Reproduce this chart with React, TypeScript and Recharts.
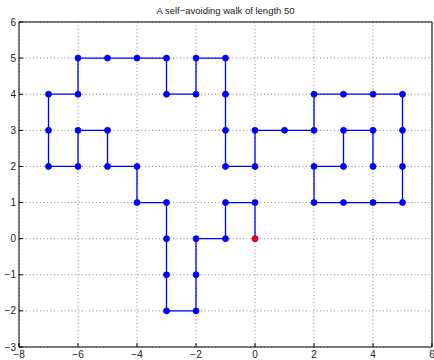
import React from 'react';
import { ComposedChart, Line, XAxis, YAxis, CartesianGrid } from 'recharts';

const walkX = [0, 0, -1, -1, -2, -2, -2, -3, -3, -3, -3, -4, -4, -5, -5, -6, -6, -7, -7, -7, -6, -6, -5, -4, -3, -3, -2, -2, -1, -1, -1, -1, 0, 0, 1, 2, 2, 3, 4, 5, 5, 5, 5, 4, 3, 2, 2, 3, 3, 4, 4];
const walkY = [0, 1, 1, 0, 0, -1, -2, -2, -1, 0, 1, 1, 2, 2, 3, 3, 2, 2, 3, 4, 4, 5, 5, 5, 5, 4, 4, 5, 5, 4, 3, 2, 2, 3, 3, 3, 4, 4, 4, 4, 3, 2, 1, 1, 1, 1, 2, 2, 3, 3, 2];
const startX = [0];
const startY = [0];
const xTicks = [-8, -6, -4, -2, 0, 2, 4, 6];
const yTicks = [-3, -2, -1, 0, 1, 2, 3, 4, 5, 6];
const title = 'A self\u2212avoiding walk of length 50';

const walkData = walkX.map((x, i) => ({ x, y: walkY[i] }));
const startData = startX.map((x, i) => ({ x, y: startY[i] }));

const fmt = (v: number) => String(v).replace('-', '\u2212');
const tickStyle = { fontSize: 10, fill: '#222', fontFamily: '"Liberation Sans", Arial, sans-serif' };

export default function App() {
  return (
    <div style={{ position: 'absolute', left: 0, top: 0, width: 434, height: 360, background: '#fff' }}>
      <div
        style={{
          position: 'absolute',
          left: 19,
          width: 413,
          top: 5,
          textAlign: 'center',
          fontSize: 9.5,
          color: '#222',
          fontFamily: '"Liberation Sans", Arial, sans-serif',
          lineHeight: '12px',
        }}
      >
        {title}
      </div>
      <ComposedChart width={434} height={360} margin={{ top: 0, right: 0, bottom: 0, left: 0 }}>
        <CartesianGrid stroke="#8a8a8a" strokeDasharray="1 2.5" xAxisId="b" yAxisId="l" />
        <XAxis
          xAxisId="b"
          type="number"
          dataKey="x"
          domain={[-8, 6]}
          ticks={xTicks}
          allowDataOverflow
          orientation="bottom"
          height={13}
          stroke="#000"
          tickSize={-4}
          tickMargin={8}
          tickFormatter={fmt}
          tick={tickStyle}
          interval={0}
        />
        <XAxis
          xAxisId="t"
          type="number"
          dataKey="x"
          domain={[-8, 6]}
          ticks={xTicks}
          allowDataOverflow
          orientation="top"
          height={22}
          stroke="#000"
          tickSize={-4}
          tick={false}
          interval={0}
        />
        <YAxis
          yAxisId="l"
          type="number"
          dataKey="y"
          domain={[-3, 6]}
          ticks={yTicks}
          allowDataOverflow
          orientation="left"
          width={19}
          stroke="#000"
          tickSize={-4}
          tickMargin={7}
          tickFormatter={fmt}
          tick={tickStyle}
          interval={0}
        />
        <YAxis
          yAxisId="r"
          type="number"
          dataKey="y"
          domain={[-3, 6]}
          ticks={yTicks}
          allowDataOverflow
          orientation="right"
          width={2}
          stroke="#000"
          tickSize={-4}
          tick={false}
          interval={0}
        />
        <Line
          xAxisId="b"
          yAxisId="l"
          data={walkData}
          dataKey="y"
          type="linear"
          stroke="#0000ff"
          strokeWidth={1.3}
          dot={{ r: 3, fill: '#0000ff', stroke: '#0000ff', strokeWidth: 0.8 }}
          activeDot={false}
          isAnimationActive={false}
        />
        <Line
          xAxisId="b"
          yAxisId="l"
          data={startData}
          dataKey="y"
          type="linear"
          stroke="#ff0000"
          strokeWidth={0}
          dot={{ r: 2.8, fill: '#ff0000', stroke: '#ff0000', strokeWidth: 0.5 }}
          activeDot={false}
          isAnimationActive={false}
        />
      </ComposedChart>
    </div>
  );
}
